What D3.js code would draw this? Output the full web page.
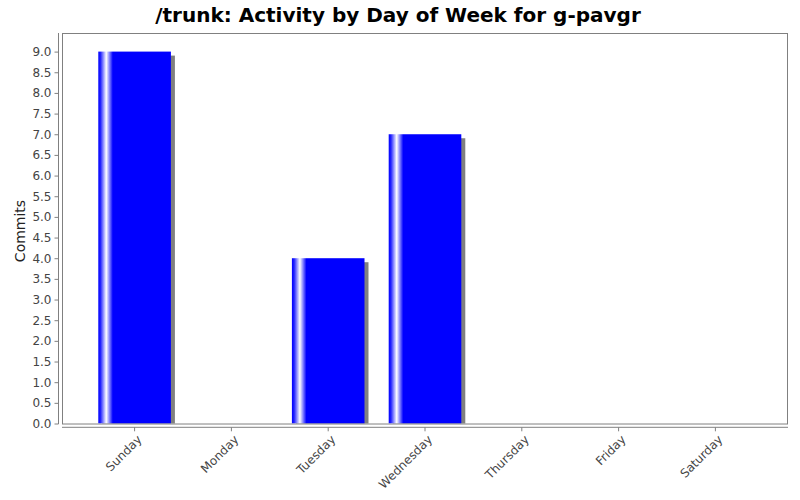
<!DOCTYPE html>
<html><head><meta charset="utf-8">
<script src="https://cdn.jsdelivr.net/npm/d3@7"></script>
<style>body{margin:0;background:#fff;} svg{display:block;}</style>
</head><body>
<svg id="chart" width="800" height="500"></svg>
<script>
const title = "/trunk: Activity by Day of Week for g-pavgr";
const yLabel = "Commits";
const days = ["Sunday","Monday","Tuesday","Wednesday","Thursday","Friday","Saturday"];
const commits = [9, 0, 4, 7, 0, 0, 0];
const yTicks = [0,0.5,1,1.5,2,2.5,3,3.5,4,4.5,5,5.5,6,6.5,7,7.5,8,8.5,9];

const svg = d3.select("#chart");
const L = 62, R = 788, T = 33, B = 423.5;
const font = "DejaVu Sans, sans-serif";

svg.append("rect").attr("width",800).attr("height",500).attr("fill","#fff");

// category axis: 5% lower/upper margins, 20% category margin (band scale equivalent)
const W = R - L;
const catW = W*0.7/7, gap = W*0.2/6;
const x = d3.scaleBand().domain(days)
  .range([L + W*0.05 - gap/2, R - W*0.05 + gap/2])
  .paddingInner(gap/(catW+gap)).paddingOuter(gap/(catW+gap)/2);

const y = d3.scaleLinear().domain([0, 9.45]).range([B, T]);

const defs = svg.append("defs");
const grad = defs.append("linearGradient").attr("id","barGrad").attr("x1","0").attr("x2","1").attr("y1","0").attr("y2","0");
[[0,"#0000ff"],[0.03,"#2020ff"],[0.11,"#ffffff"],[0.20,"#0000ff"],[1,"#0000ff"]].forEach(([o,c])=>grad.append("stop").attr("offset",o).attr("stop-color",c));
defs.append("clipPath").attr("id","plotClip").append("rect").attr("x",L).attr("y",T).attr("width",R-L).attr("height",B-T);

// plot border
svg.append("rect").attr("x",L+0.5).attr("y",T+0.5).attr("width",R-L-1).attr("height",B-T).attr("fill","none").attr("stroke","#808080");

const g = svg.append("g").attr("clip-path","url(#plotClip)");
const data = days.map((d,i)=>({d, v:commits[i]})).filter(e=>e.v>0);
g.selectAll(".shadow").data(data).join("rect")
  .attr("x", e=>x(e.d)+4).attr("y", e=>y(e.v)+4)
  .attr("width", x.bandwidth()).attr("height", e=>B - y(e.v))
  .attr("fill","#808080");
g.selectAll(".bar").data(data).join("rect")
  .attr("x", e=>x(e.d)).attr("y", e=>y(e.v))
  .attr("width", x.bandwidth()).attr("height", e=>B - y(e.v))
  .attr("fill","url(#barGrad)");

// y axis
const yAxis = d3.axisLeft(y).tickValues(yTicks).tickFormat(d3.format(".1f")).tickSize(4).tickPadding(3);
const ya = svg.append("g").attr("transform",`translate(${L-3.5},0)`).call(yAxis);
ya.select(".domain").attr("stroke","#808080").attr("d",`M0,${T}V${B+0.5}`);
ya.selectAll(".tick line").attr("stroke","#808080");
ya.selectAll(".tick text").attr("fill","#444").style("font-family",font).style("font-size","12px");

// x axis
const xAxis = d3.axisBottom(x).tickSize(4).tickSizeOuter(0).tickFormat("");
const xa = svg.append("g").attr("transform",`translate(0,${B+3.8})`).call(xAxis);
xa.select(".domain").attr("stroke","#808080").attr("d",`M${L},0H${R}`);
xa.selectAll(".tick line").attr("stroke","#808080");
xa.selectAll(".tick").append("text")
  .attr("transform","translate(5,10) rotate(-45)")
  .attr("text-anchor","end").attr("dy","0.35em")
  .attr("fill","#444").style("font-family",font).style("font-size","12px").text(d=>d);

// title
svg.append("text").attr("x",398).attr("y",22).attr("text-anchor","middle")
  .style("font-family",font).style("font-weight","bold").style("font-size","20px").attr("fill","#000").text(title);

// y label
svg.append("text").attr("transform",`translate(25,231) rotate(-90)`).attr("text-anchor","middle")
  .style("font-family",font).style("font-size","14px").attr("fill","#222").text(yLabel);
</script>
</body></html>
